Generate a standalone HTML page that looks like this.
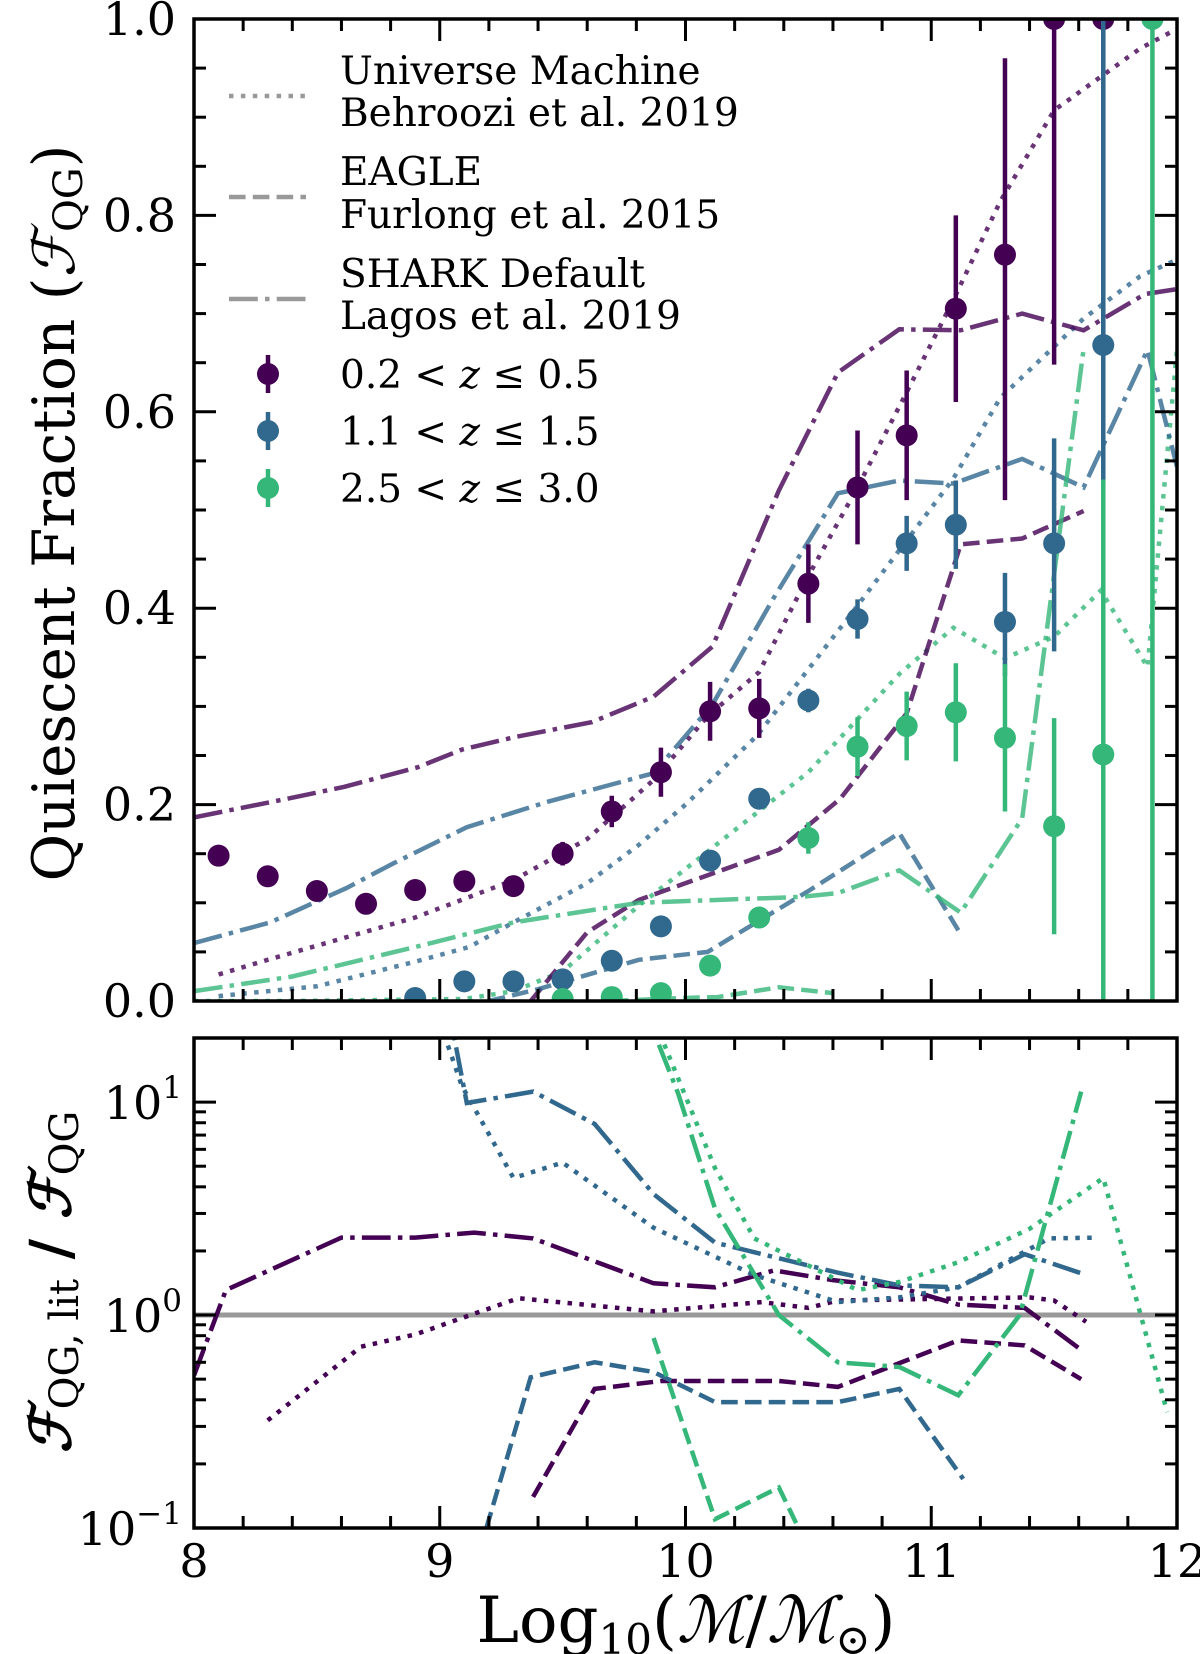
<!DOCTYPE html>
<html><head><meta charset="utf-8"><style>
html,body{margin:0;padding:0;background:#fff;}
svg{display:block;font-family:"DejaVu Serif","Liberation Serif",serif;}
</style></head><body>
<svg id="chart" width="1200" height="1654" viewBox="0 0 1200 1654" xmlns="http://www.w3.org/2000/svg">
<defs>
<clipPath id="clipTop"><rect x="194" y="19" width="983" height="982"/></clipPath>
<clipPath id="clipBot"><rect x="194" y="1038" width="983" height="490"/></clipPath>
</defs>
<g id="topLines" clip-path="url(#clipTop)"></g>
<g id="topPoints" clip-path="url(#clipTop)"></g>
<g id="botLines" clip-path="url(#clipBot)"></g>
<g id="axes"></g>
<g id="legend">
<text x="340" y="84" font-size="39">Universe Machine</text>
<text x="340" y="126" font-size="39">Behroozi et al. 2019</text>
<text x="340" y="185" font-size="39">EAGLE</text>
<text x="340" y="228" font-size="39">Furlong et al. 2015</text>
<text x="340" y="287" font-size="39">SHARK Default</text>
<text x="340" y="329" font-size="39">Lagos et al. 2019</text>
<line x1="229" y1="96" x2="306" y2="96" stroke="#999" stroke-width="4.5" stroke-dasharray="4.5,7.4"/>
<line x1="229" y1="197" x2="306" y2="197" stroke="#999" stroke-width="4.5" stroke-dasharray="16.6,7.2"/>
<line x1="229" y1="299" x2="306" y2="299" stroke="#999" stroke-width="4.5" stroke-dasharray="28.8,7.2,4.5,7.2"/>
<g><line x1="268" y1="355" x2="268" y2="393" stroke="#440154" stroke-width="4.5"/><circle cx="268" cy="374" r="11" fill="#440154"/><text x="340" y="388" font-size="39">0.2 &lt; <tspan font-style="italic">z</tspan> ≤  0.5</text></g>
<g><line x1="268" y1="412" x2="268" y2="450" stroke="#31688e" stroke-width="4.5"/><circle cx="268" cy="431" r="11" fill="#31688e"/><text x="340" y="445" font-size="39">1.1 &lt; <tspan font-style="italic">z</tspan> ≤  1.5</text></g>
<g><line x1="268" y1="469" x2="268" y2="507" stroke="#35b779" stroke-width="4.5"/><circle cx="268" cy="488" r="11" fill="#35b779"/><text x="340" y="502" font-size="39">2.5 &lt; <tspan font-style="italic">z</tspan> ≤  3.0</text></g>
</g>
<text transform="translate(74,513) rotate(-90)" text-anchor="middle" font-size="58">Quiescent Fraction (<tspan font-style="italic">ℱ</tspan><tspan font-size="40" dy="8">QG</tspan><tspan dy="-8">)</tspan></text>
<text transform="translate(70,1282) rotate(-90)" text-anchor="middle" font-size="56"><tspan font-style="italic" font-weight="bold">ℱ</tspan><tspan font-size="40" dy="8">QG, lit</tspan><tspan dy="-8" font-weight="bold"> / </tspan><tspan font-style="italic" font-weight="bold">ℱ</tspan><tspan font-size="40" dy="8">QG</tspan></text>
<text x="686" y="1642" text-anchor="middle" font-size="64">Log<tspan font-size="42" dy="12">10</tspan><tspan dy="-12">(<tspan font-style="italic">ℳ</tspan>/<tspan font-style="italic">ℳ</tspan></tspan><tspan font-size="42" dy="12">⊙</tspan><tspan dy="-12">)</tspan></text>
</svg>
<script>
// ---- data points ----
const z1X=[8.1,8.3,8.5,8.7,8.9,9.1,9.3,9.5,9.7,9.9,10.1,10.3,10.5,10.7,10.9,11.1,11.3,11.5,11.7];
const z1Y=[0.148,0.127,0.112,0.099,0.113,0.122,0.117,0.150,0.193,0.233,0.295,0.298,0.425,0.523,0.576,0.705,0.760,1.0,1.0];
const z1Lo=[0.005,0.005,0.005,0.005,0.005,0.005,0.005,0.012,0.016,0.025,0.03,0.03,0.04,0.058,0.066,0.095,0.25,0.352,0.33];
const z1Hi=[0.005,0.005,0.005,0.005,0.005,0.005,0.005,0.012,0.016,0.025,0.03,0.03,0.04,0.058,0.066,0.095,0.2,0,0];
const z2X=[8.9,9.1,9.3,9.5,9.7,9.9,10.1,10.3,10.5,10.7,10.9,11.1,11.3,11.5,11.7];
const z2Y=[0.003,0.02,0.02,0.022,0.041,0.076,0.143,0.206,0.306,0.389,0.466,0.485,0.386,0.466,0.668];
const z2Lo=[0.003,0.003,0.003,0.004,0.004,0.005,0.006,0.008,0.012,0.02,0.028,0.045,0.055,0.11,0.14];
const z2Hi=[0.003,0.003,0.003,0.004,0.004,0.005,0.006,0.008,0.012,0.02,0.028,0.045,0.05,0.107,0.33];
const z3X=[9.5,9.7,9.9,10.1,10.3,10.5,10.7,10.9,11.1,11.3,11.5,11.7,11.9];
const z3Y=[0.002,0.004,0.008,0.036,0.085,0.166,0.259,0.28,0.294,0.268,0.178,0.251,1.0];
const z3Lo=[0.002,0.002,0.003,0.004,0.006,0.016,0.03,0.035,0.05,0.075,0.11,0.251,1.0];
const z3Hi=[0.002,0.002,0.003,0.004,0.006,0.016,0.03,0.035,0.05,0.075,0.11,0.28,0];
// ---- top model lines (mass, fraction) ----
const umZ1X=[8.1,8.3,8.9,9.3,9.6,9.87,10.09,10.3,10.5,10.7,10.9,11.09,11.28,11.5,11.85,12.0];
const umZ1Y=[0.027,0.042,0.085,0.123,0.165,0.225,0.29,0.335,0.433,0.523,0.62,0.714,0.814,0.907,0.97,0.99];
const umZ2X=[8.1,8.5,8.9,9.12,9.3,9.6,9.81,10.0,10.29,10.68,11.09,11.28,11.62,11.85,12.0];
const umZ2Y=[0.005,0.015,0.04,0.055,0.08,0.12,0.159,0.2,0.27,0.396,0.532,0.614,0.695,0.738,0.755];
const umZ3X=[8.0,8.4,9.1,9.3,9.5,9.81,10.5,10.87,11.09,11.3,11.5,11.69,11.88,12.0];
const umZ3Y=[0.0,0.0,0.002,0.01,0.03,0.097,0.233,0.333,0.38,0.349,0.371,0.418,0.34,0.663];
const egZ1X=[9.37,9.6,9.81,10.38,10.63,10.9,11.12,11.37,11.62];
const egZ1Y=[0.0,0.07,0.103,0.154,0.206,0.293,0.465,0.471,0.499];
const egZ2X=[9.2,9.4,9.81,10.09,10.5,10.87,11.12];
const egZ2Y=[0.0,0.012,0.042,0.05,0.112,0.171,0.068];
const egZ3X=[9.7,9.97,10.13,10.38,10.6];
const egZ3Y=[0.0,0.003,0.004,0.014,0.008];
const shZ1X=[8.0,8.36,8.61,8.91,9.09,9.31,9.62,9.87,10.11,10.38,10.62,10.87,11.12,11.37,11.62,11.87,12.0];
const shZ1Y=[0.187,0.205,0.218,0.238,0.256,0.269,0.284,0.31,0.361,0.52,0.64,0.684,0.683,0.70,0.683,0.72,0.725];
const shZ2X=[8.0,8.31,8.62,8.81,9.11,9.44,9.87,10.11,10.36,10.62,10.87,11.09,11.37,11.62,11.88,12.0];
const shZ2Y=[0.059,0.08,0.115,0.14,0.177,0.203,0.232,0.302,0.411,0.517,0.53,0.527,0.552,0.523,0.663,0.544];
const shZ3X=[8.0,8.4,8.9,9.3,9.81,10.47,10.62,10.87,11.12,11.37,11.62];
const shZ3Y=[0.01,0.025,0.055,0.08,0.1,0.106,0.11,0.133,0.09,0.186,0.664];
// ---- ratio lines (mass, ratio) ----
const rShZ1X=[8.0,8.13,8.6,8.9,9.14,9.38,9.87,10.12,10.36,10.6,10.87,11.11,11.38,11.6];
const rShZ1Y=[0.52,1.31,2.31,2.31,2.44,2.29,1.41,1.35,1.62,1.46,1.35,1.12,1.08,0.70];
const rUmZ1X=[8.3,8.68,8.9,9.32,9.87,10.31,10.5,10.62,11.4,11.5,11.63];
const rUmZ1Y=[0.32,0.71,0.81,1.2,1.04,1.15,1.08,1.17,1.21,1.17,0.93];
const rEgZ1X=[9.38,9.63,9.9,10.38,10.62,11.11,11.38,11.61];
const rEgZ1Y=[0.14,0.45,0.49,0.49,0.46,0.76,0.72,0.5];
const rShZ2X=[9.03,9.11,9.38,9.63,9.87,10.12,10.62,10.87,11.11,11.38,11.61];
const rShZ2Y=[30,9.9,11.2,7.9,3.7,2.19,1.58,1.38,1.35,1.93,1.57];
const rUmZ2X=[8.97,9.09,9.3,9.5,9.87,10.28,10.62,10.87,11.11,11.48,11.68];
const rUmZ2Y=[30,11.9,4.4,5.2,2.57,1.54,1.15,1.21,1.35,2.29,2.31];
const rEgZ2X=[9.19,9.37,9.63,9.87,10.12,10.62,10.87,11.13];
const rEgZ2Y=[0.1,0.51,0.6,0.54,0.39,0.39,0.45,0.17];
const rShZ3X=[9.82,9.97,10.12,10.38,10.62,10.87,11.11,11.36,11.61];
const rShZ3Y=[30,11,3.16,1.0,0.6,0.57,0.42,1.0,11.2];
const rUmZ3X=[9.84,10.12,10.28,10.7,10.87,11.11,11.4,11.7,11.96];
const rUmZ3Y=[30,4.9,2.29,1.31,1.43,1.77,2.54,4.4,0.35];
const rEgZ3X=[9.87,10.12,10.38,10.46];
const rEgZ3Y=[0.78,0.11,0.155,0.1];
const xTicks=[8,9,10,11,12];
const topYTicks=[0.0,0.2,0.4,0.6,0.8,1.0];
const botYTicks=[0.1,1,10];
const botYTickLabels=['−1','0','1'];

const NS='http://www.w3.org/2000/svg';
const L=194,R=1177,T1=19,B1=1001,T2=1038,B2=1528;
const X=m=>L+(m-8)*(R-L)/4;
const Y1=f=>B1-f*(B1-T1);
const LG0=Math.log10(0.1),LG1=Math.log10(20);
const Y2=r=>B2-(Math.log10(r)-LG0)/(LG1-LG0)*(B2-T2);
function mk(tag,attrs,parent){const e=document.createElementNS(NS,tag);for(const k in attrs)e.setAttribute(k,attrs[k]);parent.appendChild(e);return e;}
const C1='#440154',C2='#31688e',C3='#35b779';
const DOT='4.5,7.4',DASH='16.6,7.2',DD='28.8,7.2,4.5,7.2';
function line(xs,ys,yf,col,dash,op,parent,name){
  const d=xs.map((x,i)=>(i?'L':'M')+X(x).toFixed(1)+','+yf(ys[i]).toFixed(1)).join('');
  const p=mk('path',{d:d,fill:'none',stroke:col,'stroke-width':4.5,'stroke-dasharray':dash,opacity:op},parent);
  
  
}
const gT=document.getElementById('topLines');
line(umZ1X,umZ1Y,Y1,C1,DOT,0.8,gT,'um-z1-line');
line(umZ2X,umZ2Y,Y1,C2,DOT,0.8,gT,'um-z2-line');
line(umZ3X,umZ3Y,Y1,C3,DOT,0.8,gT,'um-z3-line');
line(egZ1X,egZ1Y,Y1,C1,DASH,0.8,gT,'eagle-z1-line');
line(egZ2X,egZ2Y,Y1,C2,DASH,0.8,gT,'eagle-z2-line');
line(egZ3X,egZ3Y,Y1,C3,DASH,0.8,gT,'eagle-z3-line');
line(shZ1X,shZ1Y,Y1,C1,DD,0.8,gT,'shark-z1-line');
line(shZ2X,shZ2Y,Y1,C2,DD,0.8,gT,'shark-z2-line');
line(shZ3X,shZ3Y,Y1,C3,DD,0.8,gT,'shark-z3-line');
const gB=document.getElementById('botLines');
const uy=Y2(1);
const ul=mk('line',{x1:L,x2:R,y1:uy,y2:uy,stroke:'#999','stroke-width':5},gB);


line(rShZ1X,rShZ1Y,Y2,C1,DD,1,gB,'ratio-shark-z1');
line(rUmZ1X,rUmZ1Y,Y2,C1,DOT,1,gB,'ratio-um-z1');
line(rEgZ1X,rEgZ1Y,Y2,C1,DASH,1,gB,'ratio-eagle-z1');
line(rShZ2X,rShZ2Y,Y2,C2,DD,1,gB,'ratio-shark-z2');
line(rUmZ2X,rUmZ2Y,Y2,C2,DOT,1,gB,'ratio-um-z2');
line(rEgZ2X,rEgZ2Y,Y2,C2,DASH,1,gB,'ratio-eagle-z2');
line(rShZ3X,rShZ3Y,Y2,C3,DD,1,gB,'ratio-shark-z3');
line(rUmZ3X,rUmZ3Y,Y2,C3,DOT,1,gB,'ratio-um-z3');
line(rEgZ3X,rEgZ3Y,Y2,C3,DASH,1,gB,'ratio-eagle-z3');
const gP=document.getElementById('topPoints');
function pts(xs,ys,lo,hi,col,name){
  xs.forEach((x,i)=>{
    const e=mk('line',{x1:X(x),x2:X(x),y1:Y1(ys[i]-lo[i]),y2:Y1(ys[i]+hi[i]),stroke:col,'stroke-width':4.5},gP);
    
    
    const c=mk('circle',{cx:X(x),cy:Y1(ys[i]),r:11,fill:col},gP);
    
    
  });
}
pts(z1X,z1Y,z1Lo,z1Hi,C1,'z1');
pts(z2X,z2Y,z2Lo,z2Hi,C2,'z2');
pts(z3X,z3Y,z3Lo,z3Hi,C3,'z3');
// axes
const gA=document.getElementById('axes');
function tk(x1,y1,x2,y2){mk('line',{x1:x1,y1:y1,x2:x2,y2:y2,stroke:'#000','stroke-width':3},gA);}
function txt(x,y,s,anchor,size,name){const t=mk('text',{x:x,y:y,'text-anchor':anchor,'font-size':size},gA);t.textContent=s;return t;}
[[T1,B1],[T2,B2]].forEach(([t,b],pi)=>{
  const r=mk('rect',{x:L,y:t,width:R-L,height:b-t,fill:'none',stroke:'#000','stroke-width':3.5},gA);
  
  
  for(let m=8;m<=12.001;m+=0.2){
    const major=Math.abs(m-Math.round(m))<1e-6; const len=major?22:12; const x=X(m);
    tk(x,b,x,b-len); tk(x,t,x,t+len);
  }
});
for(let f=0;f<=1.0001;f+=0.05){const major=Math.abs(f*5-Math.round(f*5))<1e-6;const len=major?22:12;const y=Y1(f);tk(L,y,L+len,y);tk(R,y,R-len,y);}
topYTicks.forEach(v=>txt(176,Y1(v)+16,v.toFixed(1),'end',46,'y-tick-'+v.toFixed(1)));
for(let e=-1;e<=1;e++){for(let k=1;k<=9;k++){const v=k*Math.pow(10,e);if(v<0.1||v>20)continue;const y=Y2(v);const len=k===1?22:12;tk(L,y,L+len,y);tk(R,y,R-len,y);}}
botYTicks.forEach((v,i)=>{
  const ex=txt(182,Y2(v)-4,botYTickLabels[i],'end',31,'ratio-y-tick-exp-'+i);
  const w=ex.getComputedTextLength();
  txt(182-w,Y2(v)+17,'10','end',46,'ratio-y-tick-'+i);
});
xTicks.forEach(v=>txt(X(v),1577,String(v),'middle',46,'x-tick-'+v));
</script>
</body></html>
